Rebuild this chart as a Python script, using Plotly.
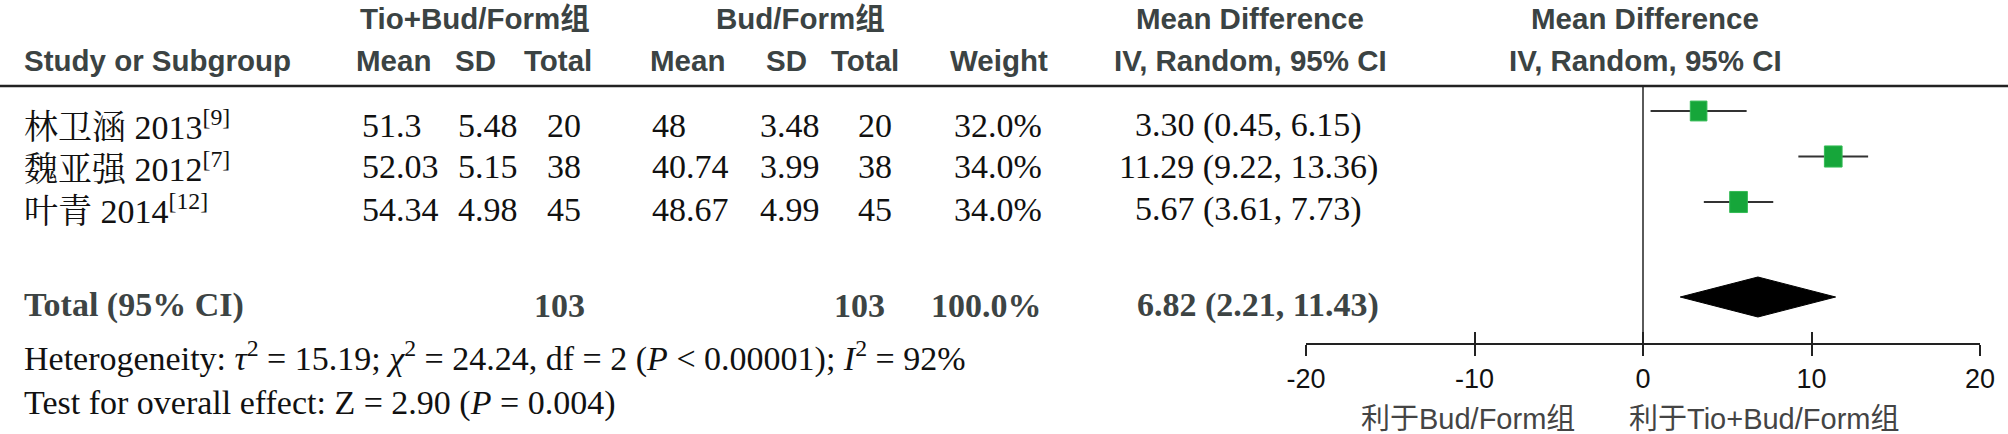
import plotly.graph_objects as go

# ---------------- data ----------------
studies = ["林卫涵 2013", "魏亚强 2012", "叶青 2014"]
refs = ["9", "7", "12"]
exp_mean = [51.3, 52.03, 54.34]
exp_sd = [5.48, 5.15, 4.98]
exp_n = [20, 38, 45]
ctl_mean = [48, 40.74, 48.67]
ctl_sd = [3.48, 3.99, 4.99]
ctl_n = [20, 38, 45]
weights = [32.0, 34.0, 34.0]
md = [3.30, 11.29, 5.67]
md_lo = [0.45, 9.22, 3.61]
md_hi = [6.15, 13.36, 7.73]
total_exp_n = 103
total_ctl_n = 103
total_weight = 100.0
total_md = 6.82
total_lo = 2.21
total_hi = 11.43
tau2, chi2, df, p_het, i2 = 15.19, 24.24, 2, "< 0.00001", 92
z_val, p_z = 2.90, "0.004"
x_ticks = [-20, -10, 0, 10, 20]
x_tick_labels = ["-20", "-10", "0", "10", "20"]
group_exp = "Tio+Bud/Form组"
group_ctl = "Bud/Form组"
favours_left = "利于Bud/Form组"
favours_right = "利于Tio+Bud/Form组"

# ---------------- layout constants ----------------
W, H = 2008, 434
PLOT_L, PLOT_R = 1306, 1980
PLOT_T, PLOT_B = 86, 343
X_MIN, X_MAX = -20, 20
ROW0, ROWSTEP = 111, 45.5
row_pos = [0, 1, 2]
total_pos = (297 - ROW0) / ROWSTEP
diamond_half = 20 / ROWSTEP
PX_PER_UNIT = (PLOT_R - PLOT_L) / (X_MAX - X_MIN)
BOX_W_PER_WEIGHT = 0.52   # px of box width per % weight
BOX_H_PER_WEIGHT = 0.62   # px of box height per % weight


def px(x):
    return x / W


def py(y):
    return 1 - y / H


HDR = dict(family="Liberation Sans, Noto Sans CJK SC", size=29.5,
           color="#3b4343", weight="bold")
DAT = dict(family="Liberation Serif, Noto Serif CJK SC, Noto Sans CJK SC", size=34, color="#111111")
TOT = dict(family="Liberation Serif, Noto Serif CJK SC, Noto Sans CJK SC", size=34, color="#3d4444",
           weight="bold")
AX = dict(family="Liberation Sans", size=27, color="#111111")
FAV = dict(family="Liberation Sans, Noto Sans CJK SC", size=29, color="#444444")

anns = []


def ann(text, x, y, anchor, font):
    anns.append(dict(text=text, x=px(x), y=py(y), xref="paper", yref="paper",
                     xanchor=anchor, yanchor="middle", showarrow=False, font=font))


def fmt(v):
    return f"{v:g}"


# headers
ann(group_exp, 475, 18, "center", HDR)
ann(group_ctl, 800, 18, "center", HDR)
ann("Mean Difference", 1250, 18, "center", HDR)
ann("Mean Difference", 1645, 18, "center", HDR)
ann("Study or Subgroup", 22, 60, "left", HDR)
for lab, xc in [("Mean", 393), ("SD", 475), ("Total", 558), ("Mean", 687), ("SD", 786),
                ("Total", 865), ("Weight", 999)]:
    ann(lab, xc, 60, "center", HDR)
ann("IV, Random, 95% CI", 1250, 60, "center", HDR)
ann("IV, Random, 95% CI", 1645, 60, "center", HDR)

# study rows
text_y = [125, 167, 209]
for i in range(len(studies)):
    y = text_y[i]
    ann(f"{studies[i]}<sup>[{refs[i]}]</sup>", 22, y, "left", DAT)
    ann(fmt(exp_mean[i]), 360, y, "left", DAT)
    ann(fmt(exp_sd[i]), 456, y, "left", DAT)
    ann(str(exp_n[i]), 545, y, "left", DAT)
    ann(fmt(ctl_mean[i]), 650, y, "left", DAT)
    ann(fmt(ctl_sd[i]), 758, y, "left", DAT)
    ann(str(ctl_n[i]), 856, y, "left", DAT)
    ann(f"{weights[i]:.1f}%", 1044, y, "right", DAT)
    ann(f"{md[i]:.2f} ({md_lo[i]:.2f}, {md_hi[i]:.2f})", 1248, y, "center", DAT)

# total row
ann("Total (95% CI)", 22, 305, "left", TOT)
ann(str(total_exp_n), 532, 305, "left", TOT)
ann(str(total_ctl_n), 832, 305, "left", TOT)
ann(f"{total_weight:.1f}%", 1044, 305, "right", TOT)
ann(f"{total_md:.2f} ({total_lo:.2f}, {total_hi:.2f})", 1258, 305, "center", TOT)

ann(f"Heterogeneity: <i>τ</i><sup>2</sup> = {tau2:.2f}; <i>χ</i><sup>2</sup> = {chi2:.2f}, "
    f"df = {df} (<i>P</i> {p_het}); <i>I</i><sup>2</sup> = {i2}%", 22, 356, "left", DAT)
ann(f"Test for overall effect: Z = {z_val:.2f} (<i>P</i> = {p_z})", 22, 403, "left", DAT)

ann(favours_left, 1468, 419, "center", FAV)
ann(favours_right, 1764, 419, "center", FAV)

# ---------------- traces ----------------
ci_x, ci_y = [], []
for lo, hi, r in zip(md_lo, md_hi, row_pos):
    ci_x += [lo, hi, None]
    ci_y += [r, r, None]

fig = go.Figure()
fig.add_trace(go.Scatter(x=ci_x, y=ci_y, mode="lines", line=dict(color="#333333", width=2),
                         hoverinfo="skip", showlegend=False))
# weight-scaled boxes (point estimates)
for m, w, r in zip(md, weights, row_pos):
    hw = BOX_W_PER_WEIGHT * w / 2 / PX_PER_UNIT
    hh = BOX_H_PER_WEIGHT * w / 2 / ROWSTEP
    fig.add_trace(go.Scatter(x=[m - hw, m + hw, m + hw, m - hw, m - hw],
                             y=[r - hh, r - hh, r + hh, r + hh, r - hh],
                             mode="lines", fill="toself", fillcolor="#16a63a",
                             line=dict(color="#34bb55", width=1),
                             hoverinfo="skip", showlegend=False))
# pooled diamond
fig.add_trace(go.Scatter(x=[total_lo, total_md, total_hi, total_md, total_lo],
                         y=[total_pos, total_pos - diamond_half, total_pos,
                            total_pos + diamond_half, total_pos],
                         mode="lines", fill="toself", fillcolor="#000000",
                         line=dict(color="#000000", width=1), hoverinfo="skip", showlegend=False))
# helper trace for the inside-tick axis
fig.add_trace(go.Scatter(x=[x_ticks[0]], y=[row_pos[0]], xaxis="x2", mode="markers",
                         marker=dict(opacity=0), hoverinfo="skip", showlegend=False))

fig.update_layout(
    width=W, height=H,
    margin=dict(l=0, r=0, t=0, b=0, autoexpand=False),
    paper_bgcolor="white", plot_bgcolor="white",
    showlegend=False,
    annotations=anns,
    shapes=[dict(type="line", xref="paper", yref="paper", x0=0, x1=1,
                 y0=py(PLOT_T), y1=py(PLOT_T), line=dict(color="#222222", width=2.5))],
    xaxis=dict(domain=[px(PLOT_L), px(PLOT_R)], range=[X_MIN, X_MAX], anchor="y",
               tickmode="array", tickvals=x_ticks, ticktext=x_tick_labels,
               ticks="outside", ticklen=11, tickwidth=2, tickcolor="#222222",
               showline=True, linecolor="#222222", linewidth=2,
               zeroline=True, zerolinecolor="#5a5a5a", zerolinewidth=2,
               showgrid=False, tickfont=AX, fixedrange=True, automargin=False),
    xaxis2=dict(overlaying="x", matches="x", anchor="y", side="bottom",
                tickmode="array", tickvals=x_ticks, ticks="inside", ticklen=11, tickwidth=2,
                tickcolor="#222222", showticklabels=False, showline=False, showgrid=False,
                zeroline=False, fixedrange=True, automargin=False),
    yaxis=dict(domain=[py(PLOT_B), py(PLOT_T)], range=[(PLOT_B - ROW0) / ROWSTEP,
                                                       (PLOT_T - ROW0) / ROWSTEP],
               visible=False, fixedrange=True, automargin=False),
)

fig.write_html("out.html", config={"displayModeBar": False},
               post_script="document.body.style.margin='0px';document.body.style.overflow='hidden';")
